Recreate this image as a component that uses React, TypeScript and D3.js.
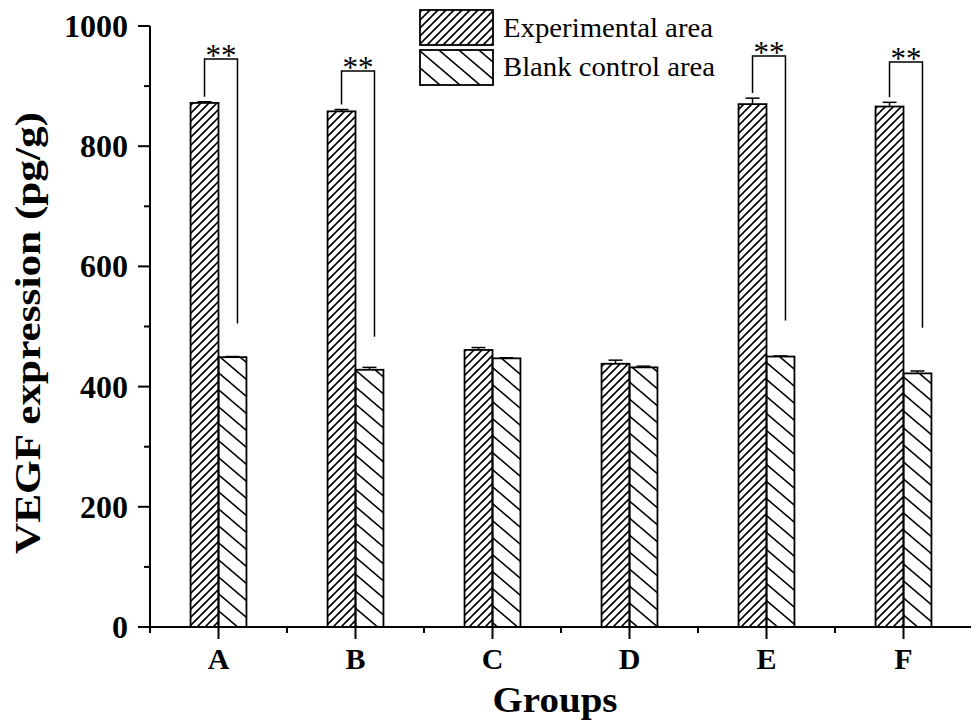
import React from "react";
import * as d3 from "d3";

const groups = ["A", "B", "C", "D", "E", "F"];
const expValues = [872, 858, 461, 438, 870, 866];
const expErrors = [2, 3, 4, 6, 10, 7];
const ctrlValues = [449, 428, 447, 432, 450, 422];
const ctrlErrors = [1, 4, 1, 2, 1, 4];
const yTicks = [0, 200, 400, 600, 800, 1000];
const yMinorTicks = [100, 300, 500, 700, 900];
// significance brackets: group index, bracket top value, right leg end value
const sigGroups = [0, 1, 4, 5];
const sigTop = [945, 925, 950, 940];
const sigRightEnd = [505, 483, 510, 498];
const sigLabel = "**";
const legendLabels = ["Experimental area", "Blank control area"];

const W = 971;
const H = 721;
const FONT = "'Liberation Serif', 'Times New Roman', serif";

export default function App() {
  const x = d3.scaleLinear().domain([0.5, 6.5]).range([150, 972]);
  const y = d3.scaleLinear().domain([0, 1000]).range([627, 26]);
  const bw = 0.204; // bar width in group units
  const cap = 7;

  const bars = groups.map((g, i) => {
    const c = i + 1;
    return { g, c, exp: expValues[i], expErr: expErrors[i], ctrl: ctrlValues[i], ctrlErr: ctrlErrors[i] };
  });

  const hatchW = 20, hatchH = 17;

  return (
    <svg width={W} height={H} style={{ position: "absolute", left: 0, top: 0, background: "#fff" }}>
      <defs>
        <pattern id="expHatch" patternUnits="userSpaceOnUse" width={8} height={8}>
          <path d="M0,8 L8,0 M-8,8 L0,0 M8,8 L16,0 M0,16 L8,8 M0,0 L8,-8" stroke="#000" strokeWidth={1.6} />
        </pattern>
        <pattern id="ctrlHatch" patternUnits="userSpaceOnUse" width={hatchW} height={hatchH}>
          <path
            d={`M0,0 L${hatchW},${hatchH} M${-hatchW},0 L0,${hatchH} M${hatchW},0 L${2 * hatchW},${hatchH} M0,${-hatchH} L${hatchW},0 M0,${hatchH} L${hatchW},${2 * hatchH}`}
            stroke="#000"
            strokeWidth={1.6}
          />
        </pattern>
      </defs>
      <rect x={0} y={0} width={W} height={H} fill="#fff" />

      {/* bars */}
      {bars.map((b) => (
        <g key={b.g}>
          <rect x={x(b.c - bw)} y={y(b.exp)} width={x(b.c) - x(b.c - bw)} height={y(0) - y(b.exp)} fill="url(#expHatch)" stroke="#000" strokeWidth={1.8} />
          <rect x={x(b.c)} y={y(b.ctrl)} width={x(b.c + bw) - x(b.c)} height={y(0) - y(b.ctrl)} fill="url(#ctrlHatch)" stroke="#000" strokeWidth={1.8} />
          {/* error bars */}
          <line x1={x(b.c - bw / 2)} x2={x(b.c - bw / 2)} y1={y(b.exp)} y2={y(b.exp + b.expErr)} stroke="#000" strokeWidth={1.5} />
          <line x1={x(b.c - bw / 2) - cap} x2={x(b.c - bw / 2) + cap} y1={y(b.exp + b.expErr)} y2={y(b.exp + b.expErr)} stroke="#000" strokeWidth={1.5} />
          <line x1={x(b.c + bw / 2)} x2={x(b.c + bw / 2)} y1={y(b.ctrl)} y2={y(b.ctrl + b.ctrlErr)} stroke="#000" strokeWidth={1.5} />
          <line x1={x(b.c + bw / 2) - cap} x2={x(b.c + bw / 2) + cap} y1={y(b.ctrl + b.ctrlErr)} y2={y(b.ctrl + b.ctrlErr)} stroke="#000" strokeWidth={1.5} />
        </g>
      ))}

      {/* significance brackets */}
      {sigGroups.map((gi, k) => {
        const c = gi + 1;
        const lx = x(c - bw / 2);
        const rx = x(c + bw / 2) + 5;
        const ly = y(expValues[gi] + expErrors[gi]) - 5;
        const ty = y(sigTop[k]);
        const ry = y(sigRightEnd[k]);
        return (
          <g key={"sig" + k}>
            <path d={`M${lx},${ly} L${lx},${ty} L${rx},${ty} L${rx},${ry}`} fill="none" stroke="#000" strokeWidth={1.5} />
            <text x={(lx + rx) / 2} y={ty + 7} textAnchor="middle" fontFamily={FONT} fontSize={31}>
              {sigLabel}
            </text>
          </g>
        );
      })}

      {/* axes */}
      <line x1={150} x2={150} y1={y(1000)} y2={y(0)} stroke="#000" strokeWidth={2} />
      <line x1={138} x2={971} y1={y(0)} y2={y(0)} stroke="#000" strokeWidth={2} />
      {yTicks.map((t) => (
        <g key={"yt" + t}>
          <line x1={138} x2={150} y1={y(t)} y2={y(t)} stroke="#000" strokeWidth={2} />
          <text x={128} y={y(t) + 11} textAnchor="end" fontFamily={FONT} fontWeight="bold" fontSize={32}>
            {t}
          </text>
        </g>
      ))}
      {yMinorTicks.map((t) => (
        <line key={"ym" + t} x1={144} x2={150} y1={y(t)} y2={y(t)} stroke="#000" strokeWidth={2} />
      ))}
      {groups.map((g, i) => (
        <g key={"xt" + g}>
          <line x1={x(i + 1)} x2={x(i + 1)} y1={y(0)} y2={y(0) + 12} stroke="#000" strokeWidth={2} />
          <text x={x(i + 1)} y={669} textAnchor="middle" fontFamily={FONT} fontWeight="bold" fontSize={30}>
            {g}
          </text>
        </g>
      ))}
      {d3.range(0.5, 6.5, 1).map((t) => (
        <line key={"xm" + t} x1={x(t)} x2={x(t)} y1={y(0)} y2={y(0) + 6} stroke="#000" strokeWidth={2} />
      ))}

      {/* axis titles */}
      <text x={555} y={712} textAnchor="middle" fontFamily={FONT} fontWeight="bold" fontSize={36} textLength={125} lengthAdjust="spacingAndGlyphs">
        Groups
      </text>
      <text transform={`translate(40,333) rotate(-90)`} textAnchor="middle" fontFamily={FONT} fontWeight="bold" fontSize={36} textLength={442} lengthAdjust="spacingAndGlyphs">
        VEGF expression (pg/g)
      </text>

      {/* legend */}
      <rect x={420} y={10} width={73} height={35} fill="url(#expHatch)" stroke="#000" strokeWidth={1.8} />
      <rect x={420} y={50} width={73} height={35} fill="url(#ctrlHatch)" stroke="#000" strokeWidth={1.8} />
      <text x={503} y={37} fontFamily={FONT} fontSize={28} textLength={210} lengthAdjust="spacingAndGlyphs">
        {legendLabels[0]}
      </text>
      <text x={503} y={76} fontFamily={FONT} fontSize={28} textLength={212} lengthAdjust="spacingAndGlyphs">
        {legendLabels[1]}
      </text>
    </svg>
  );
}
